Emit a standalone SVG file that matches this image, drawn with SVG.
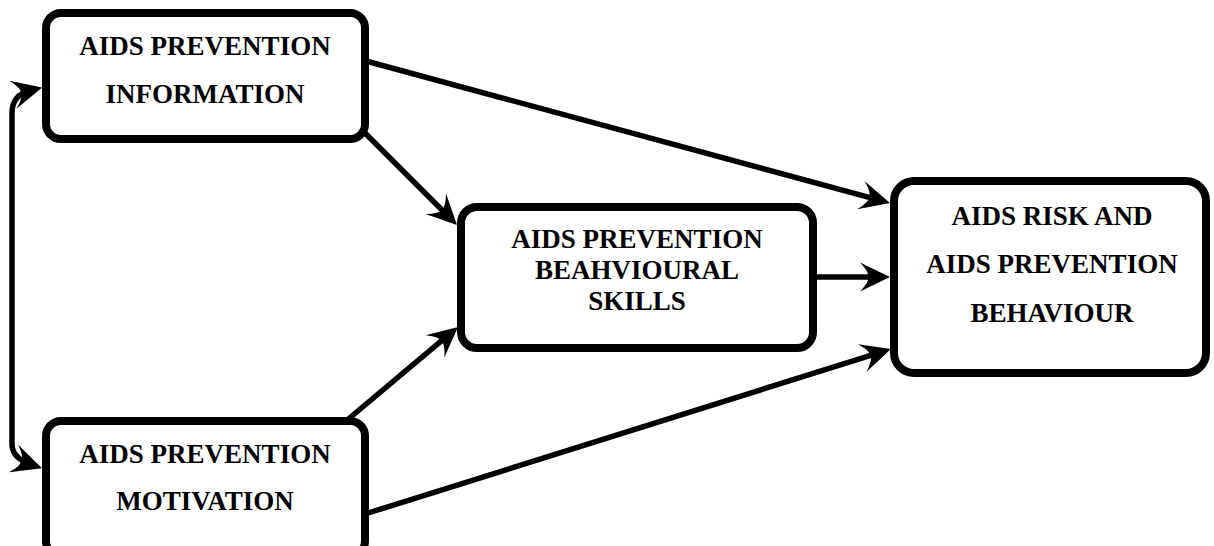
<svg xmlns="http://www.w3.org/2000/svg" width="1214" height="546" viewBox="0 0 1214 546">
  <style>
    .box { fill: #ffffff; stroke: #000000; stroke-width: 8; }
    .label { font-family: "Liberation Serif", "Times New Roman", serif; font-weight: bold; font-size: 27px; fill: #000000; text-anchor: middle; }
    .link { fill: none; stroke: #000000; stroke-width: 5.5; }
  </style>
  <defs>
    <!-- stealth-style arrowhead; tip sits 12px beyond the line end -->
    <marker id="arrow" markerUnits="userSpaceOnUse" orient="auto-start-reverse" refX="0" refY="0" markerWidth="40" markerHeight="40" viewBox="-20 -20 40 40" overflow="visible">
      <path d="M12,0 L-18,-14.5 Q-8,-4 -10,0 Q-8,4 -18,14.5 Z" fill="#000000"/>
    </marker>
  </defs>

  <rect width="1214" height="546" fill="#ffffff"/>

  <g id="connectors">
    <!-- information -> behaviour -->
    <line class="link" x1="366" y1="61" x2="878.4" y2="199.9" marker-end="url(#arrow)"/>
    <!-- information -> skills -->
    <line class="link" x1="361" y1="129" x2="448.5" y2="216.5" marker-end="url(#arrow)"/>
    <!-- skills -> behaviour -->
    <line class="link" x1="813" y1="277" x2="878" y2="277" marker-end="url(#arrow)"/>
    <!-- motivation -> skills -->
    <line class="link" x1="346" y1="421" x2="448.8" y2="334.7" marker-end="url(#arrow)"/>
    <!-- motivation -> behaviour -->
    <line class="link" x1="365" y1="514" x2="879.5" y2="352.6" marker-end="url(#arrow)"/>
    <!-- information <-> motivation -->
    <path class="link" d="M30.5,90.4 Q12,95 12,113 L12,444 Q12,458 30.6,464.3" marker-start="url(#arrow)" marker-end="url(#arrow)"/>
  </g>

  <g id="node-information">
    <rect class="box" x="46" y="13" width="319" height="126" rx="15" ry="15"/>
    <text class="label" x="205" y="55">AIDS PREVENTION</text>
    <text class="label" x="205" y="103">INFORMATION</text>
  </g>

  <g id="node-motivation">
    <rect class="box" x="46" y="421" width="319" height="135" rx="15" ry="15"/>
    <text class="label" x="205" y="463">AIDS PREVENTION</text>
    <text class="label" x="205" y="510">MOTIVATION</text>
  </g>

  <g id="node-skills">
    <rect class="box" x="461" y="207" width="352" height="141" rx="16" ry="16"/>
    <text class="label" x="637" y="248">AIDS PREVENTION</text>
    <text class="label" x="637" y="279">BEAHVIOURAL</text>
    <text class="label" x="637" y="310">SKILLS</text>
  </g>

  <g id="node-behaviour">
    <rect class="box" x="894" y="181" width="312" height="192" rx="20" ry="20"/>
    <text class="label" x="1052" y="225">AIDS RISK AND</text>
    <text class="label" x="1052" y="273">AIDS PREVENTION</text>
    <text class="label" x="1052" y="322">BEHAVIOUR</text>
  </g>
</svg>
